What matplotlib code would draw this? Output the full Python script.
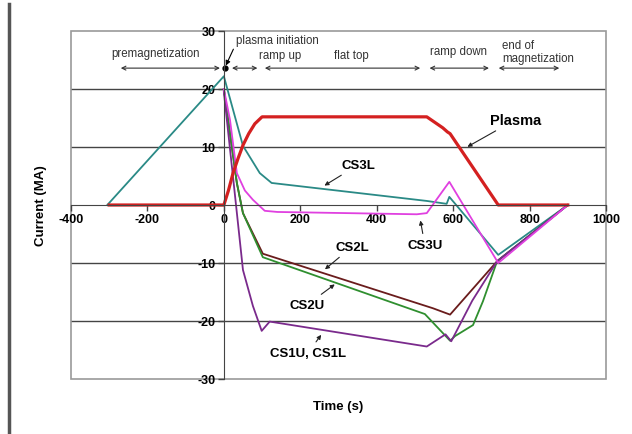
import matplotlib
matplotlib.use("Agg")
from matplotlib import pyplot as plt
from matplotlib.lines import Line2D
from matplotlib.patches import Rectangle

plt.rcParams['font.family'] = ['Liberation Sans', 'DejaVu Sans']
plt.rcParams['axes.unicode_minus'] = False

# data (time in s, current in MA)
plasma_t = [-300, 0, 12, 24, 37, 50, 65, 81, 100, 531, 573, 585, 592, 718, 900]
plasma_i = [0, 0, 2.5, 5.5, 8, 10.3, 12.3, 14, 15.2, 15.2, 13.3, 12.6, 12.3, 0, 0]

cs3l_t = [-305, 0, 25, 50, 94, 125, 531, 583, 590, 718, 900]
cs3l_i = [0, 22.2, 16.2, 10.2, 5.5, 3.8, 0.7, 0.2, 1.4, -8.6, 0]

cs3u_t = [0, 16, 34, 55, 76, 107, 140, 505, 531, 590, 718, 900]
cs3u_i = [20, 14.7, 5.5, 2.5, 0.9, -1.0, -1.2, -1.6, -1.4, 4.0, -10, 0]

cs2l_t = [0, 34, 50, 102, 547, 592, 715, 900]
cs2l_i = [20, 3.8, -1.4, -8.4, -17.8, -18.9, -9.7, 0]

cs2u_t = [0, 34, 50, 102, 526, 592, 605, 652, 678, 715, 900]
cs2u_i = [20, 3.8, -1.4, -9, -18.8, -23.4, -22.6, -20.7, -16.6, -9.7, 0]

cs1_t = [0, 25, 50, 76, 99, 120, 531, 580, 595, 650, 715, 900]
cs1_i = [19.5, 4.2, -11.2, -17.4, -21.7, -20.1, -24.4, -22.3, -23.5, -16.5, -9.7, 0]

xticks = [-400, -200, 0, 200, 400, 600, 800, 1000]
yticks = [-30, -20, -10, 0, 10, 20, 30]

fig = plt.figure(figsize=(6.32, 4.35), dpi=100)
ax = fig.add_axes([71/632, 55/435, 535/632, 348/435])

ax.set_xlim(-400, 1000)
ax.set_ylim(-30, 30)

# grid lines (excel style)
for y in [-20, -10, 10, 20]:
    ax.axhline(y, color='#444444', lw=1.0, zorder=0)
ax.add_patch(Rectangle((0, 0), 1, 1, transform=ax.transAxes, fill=False,
                       edgecolor='#9a9a9a', lw=1.2, clip_on=False, zorder=0))

ax.plot(cs3l_t, cs3l_i, color='#2a8a86', lw=1.3)
ax.plot(cs2l_t, cs2l_i, color='#6a1c1c', lw=1.3)
ax.plot(cs2u_t, cs2u_i, color='#2f8f2f', lw=1.3)
ax.plot(cs1_t, cs1_i, color='#7a2a8c', lw=1.3)
ax.plot(cs3u_t, cs3u_i, color='#e040e0', lw=1.3)
ax.plot(plasma_t, plasma_i, color='#d42020', lw=2.3)

# axes crossing at zero
for s in ['top', 'right']:
    ax.spines[s].set_visible(False)
ax.spines['left'].set_position(('data', 0))
ax.spines['bottom'].set_position(('data', 0))
ax.spines['left'].set_color('#444444')
ax.spines['bottom'].set_color('#444444')
ax.set_xticks(xticks)
ax.set_yticks(yticks)
ax.tick_params(direction='out', length=4, width=1, color='#444444',
               labelsize=9, pad=2)
for lab in ax.get_xticklabels() + ax.get_yticklabels():
    lab.set_fontweight('bold')

ax.set_xlabel('Time (s)', fontsize=9.5, fontweight='bold')
ax.xaxis.set_label_coords(0.5, -0.06)
ax.set_ylabel('Current (MA)', fontsize=9.5, fontweight='bold')
ax.yaxis.set_label_coords(-0.045, 0.5)

# phase annotations
darr = dict(arrowstyle='<->', lw=0.8, color='#333333', mutation_scale=7)
y_ar = 23.6
for a, b in [(-277, -3), (14, 95), (100, 521), (531, 701), (712, 885)]:
    ax.annotate('', xy=(a, y_ar), xytext=(b, y_ar), arrowprops=darr)
ax.annotate('', xy=(2, y_ar), xytext=(28, 27.3),
            arrowprops=dict(arrowstyle='-|>', lw=0.8, color='k', mutation_scale=7))
ax.plot([2], [y_ar], 'o', color='k', ms=3.5)

tfs = 8.3
ax.text(-180, 26.2, 'premagnetization', ha='center', va='center', fontsize=tfs, color='#333333')
ax.text(140, 28.4, 'plasma initiation', ha='center', va='center', fontsize=tfs, color='#333333')
ax.text(147, 25.8, 'ramp up', ha='center', va='center', fontsize=tfs, color='#333333')
ax.text(335, 25.8, 'flat top', ha='center', va='center', fontsize=tfs, color='#333333')
ax.text(613, 26.5, 'ramp down', ha='center', va='center', fontsize=tfs, color='#333333')
ax.text(728, 26.5, 'end of\nmagnetization', ha='left', va='center', fontsize=tfs,
        color='#333333', linespacing=1.05)

# series labels
sarr = dict(arrowstyle='-|>', lw=0.8, color='#222222', mutation_scale=6)
lfs = 9.5
ax.annotate('Plasma', xy=(631, 9.8), xytext=(696, 14.7), fontsize=10.5, fontweight='bold',
            ha='left', va='center', arrowprops=sarr)
ax.annotate('CS3L', xy=(257, 3.1), xytext=(351, 6.9), fontsize=lfs, fontweight='bold',
            ha='center', va='center', arrowprops=sarr)
ax.annotate('CS3U', xy=(513, -2.2), xytext=(526, -6.9), fontsize=lfs, fontweight='bold',
            ha='center', va='center', arrowprops=sarr)
ax.annotate('CS2L', xy=(259, -11.4), xytext=(335, -7.2), fontsize=lfs, fontweight='bold',
            ha='center', va='center', arrowprops=sarr)
ax.annotate('CS2U', xy=(296, -13.4), xytext=(218, -17.2), fontsize=lfs, fontweight='bold',
            ha='center', va='center', arrowprops=sarr)
ax.annotate('CS1U, CS1L', xy=(259, -22), xytext=(220, -25.5), fontsize=lfs, fontweight='bold',
            ha='center', va='center', arrowprops=sarr)

# dark frame edge on the left of the picture
fig.add_artist(Line2D([9/632, 9/632], [0, 1 - 5/435], color='#555555', lw=2.5))

fig.savefig('out.png', dpi=100)
